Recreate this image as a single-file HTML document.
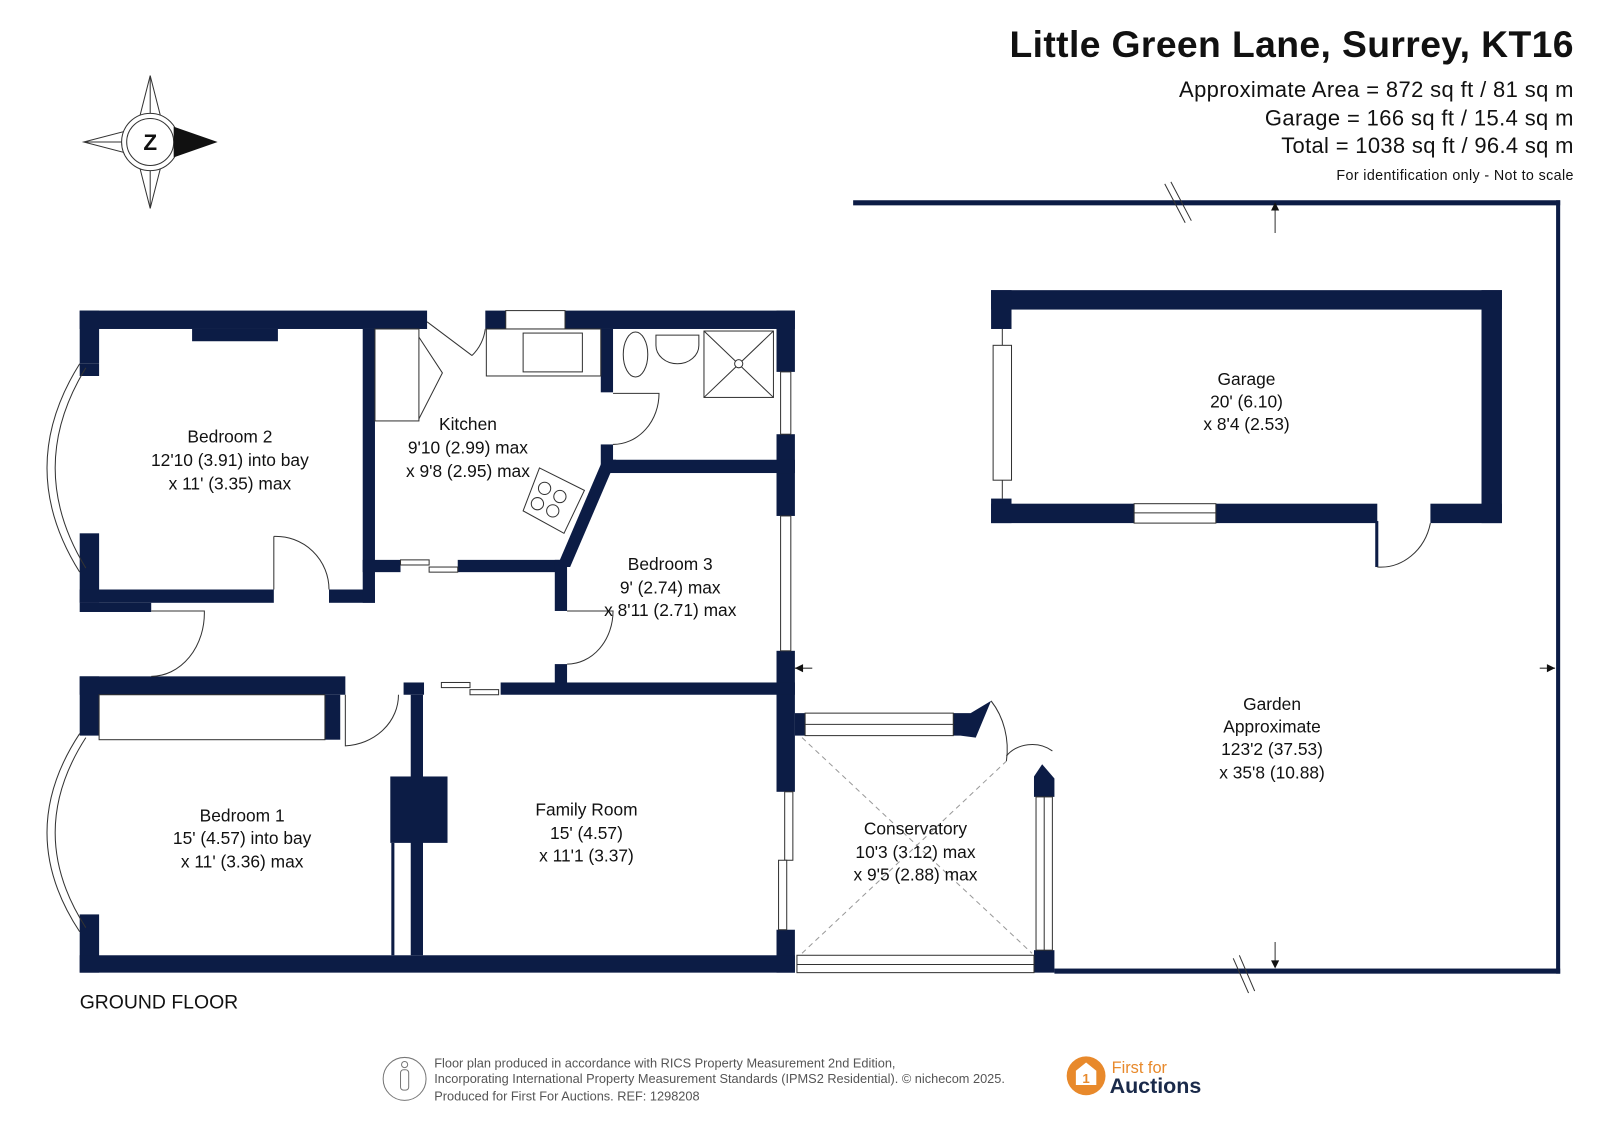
<!DOCTYPE html>
<html><head><meta charset="utf-8"><style>
html,body{margin:0;padding:0;background:#fff;}
svg{display:block;}
text{font-family:"Liberation Sans",sans-serif;}
.r{font-size:17px;fill:#111;text-anchor:middle;}
</style></head><body>
<svg width="1599" height="1131" viewBox="0 0 1565 1107" preserveAspectRatio="none" xmlns="http://www.w3.org/2000/svg">
<rect width="1565" height="1107" fill="#fff"/>
<!-- Title -->
<text x="1540" y="56" font-size="36.5" font-weight="bold" text-anchor="end" fill="#111" textLength="552">Little Green Lane, Surrey, KT16</text>
<text x="1540" y="95" font-size="21.5" text-anchor="end" fill="#111" textLength="386">Approximate Area = 872 sq ft / 81 sq m</text>
<text x="1540" y="123" font-size="21.5" text-anchor="end" fill="#111" textLength="302">Garage = 166 sq ft / 15.4 sq m</text>
<text x="1540" y="150" font-size="21.5" text-anchor="end" fill="#111" textLength="286">Total = 1038 sq ft / 96.4 sq m</text>
<text x="1540" y="176" font-size="14" text-anchor="end" fill="#111" textLength="232">For identification only - Not to scale</text>

<!-- Compass -->
<g stroke="#333" stroke-width="1" fill="none">
<polygon points="147,74 160,125 147,138 134,125"/>
<polygon points="147,204 160,153 147,140 134,153"/>
<polygon points="82,139 132,126 146,139 132,152"/>
<line x1="147" y1="74" x2="147" y2="204"/><line x1="82" y1="139" x2="146" y2="139"/>
<circle cx="147" cy="139" r="28" fill="#fff"/><circle cx="147" cy="139" r="23"/>
</g>
<polygon points="170,124 213,139 170,154" fill="#111"/>
<text x="147" y="147" font-size="22" font-weight="bold" text-anchor="middle" fill="#111">Z</text>

<g fill="#0c1c45">
<rect x="835" y="196" width="692" height="5"/>
<rect x="1523" y="196" width="4" height="757"/>
<rect x="1032" y="948" width="495" height="5"/>
<rect x="970" y="284" width="500" height="19"/>
<rect x="970" y="284" width="20" height="38"/>
<rect x="970" y="488" width="20" height="24"/>
<rect x="1450" y="284" width="20" height="228"/>
<rect x="970" y="493" width="378" height="19"/>
<rect x="1400" y="493" width="70" height="19"/>
<rect x="1346" y="510" width="3" height="45"/>
<rect x="78" y="304" width="340" height="18"/>
<rect x="475" y="304" width="303" height="18"/>
<rect x="188" y="322" width="84" height="12"/>
<rect x="760" y="304" width="18" height="60"/>
<rect x="760" y="425" width="18" height="80"/>
<rect x="760" y="637" width="18" height="138"/>
<rect x="760" y="910" width="18" height="42"/>
<rect x="78" y="304" width="19" height="52"/>
<polygon points="78,356 97,356 97,368 78,368"/>
<rect x="78" y="522" width="19" height="68"/>
<rect x="78" y="577" width="190" height="13"/>
<rect x="322" y="577" width="45" height="13"/>
<rect x="355" y="322" width="12" height="268"/>
<rect x="78" y="590" width="70" height="9"/>
<rect x="355" y="548" width="37" height="12"/>
<rect x="448" y="548" width="105" height="12"/>
<polygon points="590,450 603,450 558,555 545,555"/>
<rect x="588" y="322" width="12" height="62"/>
<rect x="588" y="435" width="12" height="20"/>
<rect x="590" y="450" width="188" height="13"/>
<rect x="543" y="548" width="12" height="50"/>
<rect x="543" y="650" width="12" height="25"/>
<rect x="78" y="662" width="260" height="18"/>
<rect x="395" y="668" width="20" height="12"/>
<rect x="490" y="668" width="288" height="12"/>
<rect x="318" y="680" width="15" height="44"/>
<rect x="78" y="662" width="19" height="58"/>
<rect x="78" y="895" width="19" height="57"/>
<rect x="402" y="680" width="12" height="255"/>
<rect x="382" y="760" width="56" height="65"/>
<rect x="383" y="825" width="3" height="110"/>
<rect x="78" y="935" width="700" height="17"/>
<rect x="778" y="698" width="10" height="22"/>
<polygon points="933,698 950,698 970,686 955,722 940,720 933,720"/>
<polygon points="1012,760 1020,748 1032,762 1032,780 1012,780"/>
<rect x="1012" y="930" width="20" height="22"/>
</g>
<g stroke="#333" stroke-width="1" fill="#fff">
<rect x="495" y="304" width="58" height="18"/>
<rect x="764" y="364" width="10" height="61"/>
<rect x="764" y="505" width="10" height="132"/>
<rect x="768" y="775" width="8" height="67"/><rect x="762" y="842" width="8" height="68"/>
<rect x="972" y="338" width="18" height="132"/>
<line x1="981" y1="322" x2="981" y2="338"/><line x1="981" y1="470" x2="981" y2="488"/>
<rect x="1110" y="493" width="80" height="19"/><line x1="1110" y1="502" x2="1190" y2="502"/>
<rect x="392" y="548" width="28" height="5"/><rect x="420" y="555" width="28" height="5"/>
<rect x="432" y="668" width="28" height="5"/><rect x="460" y="675" width="28" height="5"/>
<rect x="788" y="698" width="145" height="22"/><line x1="788" y1="709" x2="933" y2="709"/>
<rect x="780" y="935" width="232" height="17"/><line x1="780" y1="944" x2="1012" y2="944"/>
<rect x="1014" y="780" width="16" height="150"/><line x1="1022" y1="780" x2="1022" y2="930"/>
<rect x="97" y="680" width="221" height="44" fill="none"/>
<rect x="367" y="322" width="43" height="90" fill="none"/>
<rect x="476" y="322" width="112" height="46" fill="none"/>
<rect x="512" y="326" width="58" height="38"/>
<rect x="689" y="324" width="68" height="65"/>
<line x1="689" y1="324" x2="757" y2="389"/><line x1="757" y1="324" x2="689" y2="389"/>
<circle cx="723" cy="356" r="4"/>
<ellipse cx="622" cy="347" rx="12" ry="22"/>
<path d="M642,328 h42 v10 a21,18 0 0 1 -42,0 z"/>
<polygon points="528,458 572,480 552,522 512,500"/>
<circle cx="533" cy="478" r="6"/><circle cx="548" cy="486" r="6"/><circle cx="526" cy="493" r="6"/><circle cx="541" cy="500" r="6"/>
</g>
<g stroke="#333" stroke-width="1" fill="none">
<path d="M78,356 Q14,458 78,560"/><path d="M84,360 Q24,458 84,556"/>
<path d="M78,718 Q14,815 78,912"/><path d="M84,722 Q24,815 84,908"/>
<path d="M268,525 V577 M268,525 A52,52 0 0 1 322,577"/>
<path d="M418,315 L462,348 M462,348 A45,45 0 0 0 475,322"/>
<path d="M410,330 L433,365 L410,410"/>
<path d="M600,385 H645 A45,50 0 0 1 600,435"/>
<path d="M555,598 H600 A45,52 0 0 1 555,650"/>
<path d="M148,598 H200 A52,62 0 0 1 148,662"/>
<path d="M338,680 V730 A55,50 0 0 0 390,680"/>
<path d="M970,686 A60,70 0 0 1 985,745"/>
<path d="M985,740 A30,25 0 0 1 1030,735"/>
<path d="M1348,555 A50,55 0 0 0 1400,512"/>
<path d="M1140,180 L1160,218 M1146,178 L1166,216"/>
<path d="M1207,938 L1222,972 M1213,935 L1228,970"/>
<path d="M1248,228 V202 M1248,922 V946 M795,654 H778 M1507,654 H1522"/>
</g>
<g fill="#111">
<polygon points="1244,206 1252,206 1248,198"/><polygon points="1244,940 1252,940 1248,948"/>
<polygon points="786,650 786,658 778,654"/><polygon points="1514,650 1514,658 1522,654"/>
</g>
<g stroke="#999" stroke-width="1" stroke-dasharray="5,4" fill="none">
<line x1="785" y1="722" x2="1010" y2="933"/><line x1="785" y1="933" x2="985" y2="745"/>
</g>
<text class="r" x="225" y="433">Bedroom 2</text>
<text class="r" x="225" y="456">12'10 (3.91) into bay</text>
<text class="r" x="225" y="479">x 11' (3.35) max</text>
<text class="r" x="458" y="421">Kitchen</text>
<text class="r" x="458" y="444">9'10 (2.99) max</text>
<text class="r" x="458" y="467">x 9'8 (2.95) max</text>
<text class="r" x="656" y="558">Bedroom 3</text>
<text class="r" x="656" y="581">9' (2.74) max</text>
<text class="r" x="656" y="603">x 8'11 (2.71) max</text>
<text class="r" x="237" y="804">Bedroom 1</text>
<text class="r" x="237" y="826">15' (4.57) into bay</text>
<text class="r" x="237" y="849">x 11' (3.36) max</text>
<text class="r" x="574" y="798">Family Room</text>
<text class="r" x="574" y="821">15' (4.57)</text>
<text class="r" x="574" y="843">x 11'1 (3.37)</text>
<text class="r" x="896" y="817">Conservatory</text>
<text class="r" x="896" y="840">10'3 (3.12) max</text>
<text class="r" x="896" y="862">x 9'5 (2.88) max</text>
<text class="r" x="1220" y="377">Garage</text>
<text class="r" x="1220" y="399">20' (6.10)</text>
<text class="r" x="1220" y="421">x 8'4 (2.53)</text>
<text class="r" x="1245" y="695">Garden</text>
<text class="r" x="1245" y="717">Approximate</text>
<text class="r" x="1245" y="739">123'2 (37.53)</text>
<text class="r" x="1245" y="762">x 35'8 (10.88)</text>
<text x="78" y="987" font-size="19" fill="#111">GROUND FLOOR</text>
<circle cx="396" cy="1056" r="21" fill="none" stroke="#777"/>
<circle cx="396" cy="1042" r="3" fill="none" stroke="#777"/>
<rect x="392" y="1047" width="8" height="20" rx="3" fill="none" stroke="#777"/>
<text x="425" y="1045" font-size="12.5" fill="#555">Floor plan produced in accordance with RICS Property Measurement 2nd Edition,</text>
<text x="425" y="1060" font-size="12.5" fill="#555">Incorporating International Property Measurement Standards (IPMS2 Residential).  © nichecom 2025.</text>
<text x="425" y="1077" font-size="12.5" fill="#555">Produced for First For Auctions.   REF:  1298208</text>
<circle cx="1063" cy="1053" r="19" fill="#e8892b"/>
<path d="M1053,1062 V1048 L1063,1040 L1073,1048 V1062 Z" fill="#fff"/>
<text x="1063" y="1060" font-size="13" font-weight="bold" text-anchor="middle" fill="#e8892b">1</text>
<text x="1088" y="1050" font-size="16" fill="#e8892b">First for</text>
<text x="1086" y="1070" font-size="21" font-weight="bold" fill="#1a2a4a">Auctions</text>
</svg>
</body></html>
